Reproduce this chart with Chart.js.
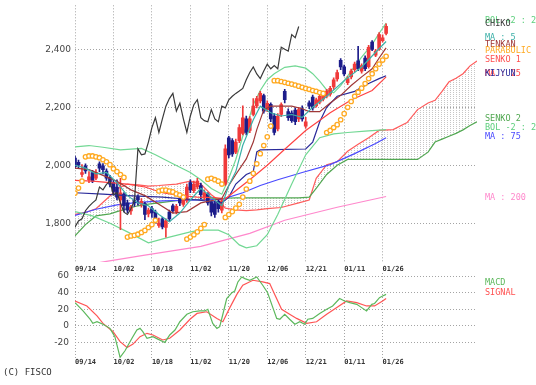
<!DOCTYPE html>
<html>
<head>
<meta charset="utf-8">
<script src="https://cdn.jsdelivr.net/npm/chart.js@4/dist/chart.umd.min.js"></script>
<style>
body{margin:0;background:#fff;width:536px;height:385px;position:relative;overflow:hidden;font-family:"DejaVu Sans Mono",monospace}
canvas{position:absolute;left:0}
#main{top:0}
#macd{top:270px}
.lg{position:absolute;left:485px;font-size:8.5px;line-height:10px;white-space:nowrap}
</style>
</head>
<body>
<canvas id="main" width="536" height="275"></canvas>
<canvas id="macd" width="536" height="105"></canvas>
<div id="legend"></div>
<div class="lg" style="left:3px;top:367px;color:#333;font-size:9px">(C) FISCO</div>
<script>
// date ticks, one every 11 sessions
const xLabels = ["09/14", "10/02", "10/18", "11/02", "11/20", "12/06", "12/21", "01/11", "01/26"];
const priceTicks = [1800, 2000, 2200, 2400];
const macdTicks = [-20, 0, 20, 40, 60];

// daily candles (index 0 = 09/14)
const open = [2025,2010,1968,1998,1950,1975,1955,2005,1998,1980,1958,1940,1925,1880,1900,1870,1842,1880,1892,1865,
  1868,1832,1850,1838,1792,1815,1785,1838,1860,1840,1885,1865,1880,1940,1912,1925,1930,1890,1900,1872,
  1868,1875,1845,1935,2095,2085,2045,2085,2110,2160,2120,2175,2205,2222,2240,2192,2210,2170,2125,2175,
  2255,2185,2180,2190,2160,2195,2135,2215,2235,2205,2218,2228,2238,2245,2270,2298,2362,2340,2285,2305,
  2330,2360,2325,2370,2340,2425,2380,2400,2430,2455];
const high = [2032,2018,2002,2005,1978,1982,1985,2012,2006,1988,1965,1948,1950,1955,1905,1880,1862,1888,1898,1885,
  1872,1852,1858,1845,1818,1820,1815,1845,1866,1865,1892,1888,1935,1950,1945,1955,1938,1915,1905,1878,
  1875,1880,1882,2070,2100,2092,2090,2140,2205,2170,2168,2230,2238,2255,2246,2222,2215,2178,2178,2215,
  2262,2195,2188,2198,2200,2205,2165,2222,2242,2232,2245,2255,2262,2272,2302,2328,2368,2346,2306,2332,
  2356,2410,2350,2378,2414,2430,2400,2458,2450,2488];
const low = [1988,1990,1960,1972,1940,1940,1950,1978,1970,1948,1925,1900,1880,1778,1840,1835,1830,1858,1862,1855,
  1812,1822,1820,1800,1785,1780,1752,1805,1835,1832,1860,1858,1872,1905,1905,1918,1885,1880,1862,1825,
  1820,1838,1835,1930,2025,2030,2040,2078,2105,2105,2112,2170,2198,2215,2180,2185,2150,2105,2118,2168,
  2215,2155,2148,2140,2150,2152,2128,2195,2190,2200,2212,2222,2232,2238,2262,2290,2330,2308,2278,2298,
  2322,2326,2318,2326,2335,2395,2375,2396,2425,2450];
const close = [1995,2000,1975,1980,1960,1945,1975,1990,1985,1955,1935,1910,1890,1905,1860,1845,1855,1870,1880,1875,
  1830,1845,1835,1810,1800,1787,1808,1815,1843,1858,1870,1880,1925,1915,1934,1945,1898,1905,1870,1838,
  1830,1850,1877,2057,2036,2039,2080,2130,2164,2113,2160,2204,2230,2248,2187,2214,2160,2113,2170,2209,
  2226,2164,2154,2150,2192,2160,2150,2204,2198,2226,2238,2248,2256,2265,2295,2320,2339,2315,2299,2325,
  2349,2333,2344,2333,2407,2400,2394,2451,2440,2479];

// parabolic SAR, one dot per session
const sar = [1904,1921,1945,2029,2032,2032,2029,2026,2019,2012,2002,1988,1978,1968,1958,1752,1756,1758,1762,1768,
  1775,1785,1795,1810,1911,1914,1914,1911,1908,1901,1897,1890,1745,1752,1760,1770,1782,1795,1952,1955,
  1950,1945,1935,1820,1830,1840,1852,1865,1890,1918,1945,1972,2005,2040,2068,2098,2135,2292,2292,2289,
  2286,2283,2280,2277,2273,2269,2265,2262,2258,2255,2251,2248,2113,2120,2130,2140,2157,2178,2200,2220,
  2238,2252,2266,2282,2299,2316,2333,2349,2363,2376];

// ichimoku cloud, drawn 26 sessions ahead
const senkoX = [0,3,6,10,12,15,18,21,24,29,33,36,39,41,43,46,49,52,55,59,64,67,69,72,75,78,81,84,87,91,95,98,101,103,105,107,109,111,113,115];
const senko1 = [1830,1837,1850,1894,1918,1935,1932,1928,1930,1935,1945,1935,1898,1880,1852,1846,1843,1846,1850,1854,
  1870,1880,1955,2002,2012,2048,2072,2095,2120,2123,2147,2192,2215,2224,2255,2288,2300,2316,2343,2360];
const senko2 = [1756,1795,1825,1832,1840,1850,1860,1866,1870,1878,1880,1882,1884,1885,1886,1887,1887,1887,1887,1887,
  1887,1890,1920,1968,2000,2020,2020,2020,2020,2020,2020,2020,2045,2080,2090,2100,2110,2122,2137,2150];

// [session, value]
const ma5 = [[0,2000],[3,1990],[6,1970],[9,1975],[12,1940],[15,1895],[18,1870],[21,1860],[24,1830],[27,1805],[30,1835],
  [33,1880],[36,1920],[39,1890],[42,1860],[44,1930],[46,1978],[48,2069],[51,2157],[53,2204],[56,2181],[59,2170],
  [62,2175],[65,2165],[68,2200],[72,2238],[77,2292],[82,2339],[86,2390],[89,2427]];
const ma25 = [[0,1948],[5,1945],[10,1940],[15,1935],[20,1925],[25,1905],[30,1895],[35,1890],[40,1888],[43,1884],
  [50,1950],[55,2000],[60,2055],[66,2120],[73,2181],[79,2225],[85,2258],[89,2305]];
const ma75 = [[0,1827],[6,1848],[12,1863],[18,1872],[25,1877],[35,1880],[42,1882],[48,1905],[53,1930],[58,1950],
  [65,1975],[73,2002],[80,2040],[86,2075],[89,2095]];
const ma200 = [[0,1650],[9,1668],[20,1690],[36,1720],[50,1765],[60,1810],[75,1855],[89,1892]];
const bolUp = [[0,2063],[4,2068],[8,2062],[13,2053],[19,2058],[23,2036],[28,2005],[33,1975],[36,1950],[39,1920],[42,1900],
  [44,1955],[46,2020],[48,2100],[50,2170],[51,2210],[53,2258],[55,2295],[57,2316],[60,2338],[63,2343],[66,2335],
  [68,2316],[70,2290],[72,2260],[74,2250],[76,2275],[79,2325],[82,2373],[85,2417],[87,2455],[89,2491]];
const bolLow = [[0,1840],[5,1825],[10,1800],[15,1770],[21,1732],[27,1752],[33,1770],[36,1776],[41,1776],[44,1760],
  [47,1725],[49,1715],[52,1722],[55,1760],[58,1830],[62,1935],[66,2036],[70,2095],[74,2108],[78,2113],[83,2118],[89,2123]];
const tenkan = [[0,1990],[4,1985],[8,1965],[12,1945],[16,1915],[20,1895],[24,1865],[28,1835],[32,1840],[36,1870],
  [40,1880],[42,1885],[44,1930],[46,1968],[49,2022],[51,2080],[52,2123],[54,2191],[56,2204],[59,2204],[62,2204],
  [65,2195],[67,2185],[70,2185],[73,2215],[76,2241],[79,2275],[82,2305],[85,2333],[87,2370],[89,2405]];
const kijun = [[0,1905],[8,1900],[15,1895],[25,1890],[35,1880],[42,1870],[44,1890],[46,1935],[49,1968],[51,1978],
  [52,2046],[53,2053],[66,2056],[68,2080],[70,2150],[72,2200],[75,2238],[80,2255],[84,2282],[87,2299],[89,2309]];

const macd = [[0,28],[1.4,22],[2.3,18],[4.3,8],[5.1,3],[6.3,5],[8,2],[10,-3],[11.4,-13],[12.9,-38],[14.3,-30],
  [16.3,-15],[17.7,-5],[18.6,-3],[19.4,-7],[20.6,-15],[22.3,-13],[23.7,-16],[25.7,-20],[27.1,-11],[28.6,-5],[30,5],
  [32,14],[33.7,17],[35.7,18],[37.1,18],[38,20],[39.4,3],[40.6,-3],[41.4,-1],[42.3,14],[43.4,33],[44.9,40],[45.7,42],
  [46.6,53],[47.7,59],[48.6,57],[50,55],[52,59],[53.7,49],[55.1,40],[56.6,22],[57.7,9],[58.6,8],[60,14],[61.4,8],
  [62.9,2],[64.3,5],[65.7,2],[66.6,8],[68,9],[70,15],[72,20],[73.7,24],[75.7,33],[77.1,30],[78.6,28],[80.6,26],
  [82,22],[83.4,18],[84.9,26],[85.7,27],[87.1,34],[88,36],[89,38]];
const signal = [[0,30],[3.4,24],[6.3,12],[8,3],[10.9,-7],[12.9,-19],[14.9,-26],[16.6,-22],[18.6,-13],[20.6,-9],
  [22.3,-11],[25.1,-17],[27.1,-15],[30,-5],[32.9,8],[34.9,15],[37.7,17],[40.6,9],[42.3,5],[44.3,22],[46.3,38],[48,49],
  [50.9,55],[53.7,53],[55.7,51],[57.1,38],[59.1,20],[61.4,14],[63.4,9],[66.3,3],[69.1,5],[72,14],[74.9,22],[77.7,30],
  [80.6,28],[83.4,24],[85.7,24],[88,30],[89,33]];

const CHIKO_SHIFT = 25;

const pts = arr => arr.map(p => ({x: p[0], y: p[1]}));
const line = (label, data, color, order) => ({type: "line", label, data, borderColor: color, borderWidth: 1.2, pointRadius: 0, order});

// vertical dotted hatch for the cloud
const hatch = (() => {
  const c = document.createElement("canvas");
  c.width = 3; c.height = 2;
  const g = c.getContext("2d");
  g.fillStyle = "#c6c6c6";
  g.fillRect(0, 0, 1, 1);
  return g.createPattern(c, "repeat");
})();

const candleColor = ctx => close[ctx.dataIndex] >= open[ctx.dataIndex] ? "#f03a3a" : "#1c1c8a";

// keep the plot box fixed: no automatic room for overflowing labels
const noPad = s => { s.paddingTop = 0; s.paddingBottom = 0; s.paddingLeft = 0; s.paddingRight = 0; };

const xAxis = (h, pad) => ({
  type: "linear", min: 0, max: 115, offset: false,
  afterBuildTicks: s => { s.ticks = xLabels.map((_, k) => ({value: k * 11})); },
  afterFit: s => { s.height = h; noPad(s); },
  grid: {color: "#a4a4a4", drawTicks: false, offset: false},
  border: {display: false, dash: [1, 2]},
  ticks: {align: "start", padding: pad, maxRotation: 0, autoSkip: false, color: "#333",
    font: {family: "DejaVu Sans Mono", size: 7, weight: "bold"},
    callback: (v, k) => xLabels[k]}
});

const yAxis = (min, max, ticks, pad, fmt) => ({
  min, max,
  afterBuildTicks: s => { s.ticks = ticks.map(v => ({value: v})); },
  afterFit: s => { s.width = 75; noPad(s); },
  grid: {color: "#a4a4a4", drawTicks: false},
  border: {display: false, dash: [1, 2]},
  ticks: {padding: pad, color: "#444", font: {family: "DejaVu Sans", size: 9}, callback: fmt}
});

const baseOpts = {
  responsive: false, animation: false, devicePixelRatio: 1,
  plugins: {legend: {display: false}, tooltip: {enabled: false}},
  elements: {line: {tension: 0}, point: {radius: 0}}
};

new Chart(document.getElementById("main"), {
  type: "line",
  data: {
    datasets: [
      Object.assign(line("SENKO 1", senkoX.map((x, i) => ({x, y: senko1[i]})), "#ff5c5c", 20), {fill: 1, backgroundColor: hatch}),
      line("SENKO 2", senkoX.map((x, i) => ({x, y: senko2[i]})), "#52a852", 19),
      line("MA 200", pts(ma200), "#ff88cc", 15),
      line("MA 75", pts(ma75), "#4a4aff", 14),
      line("BOL +2", pts(bolUp), "#72d894", 13),
      line("BOL -2", pts(bolLow), "#72d894", 13),
      {type: "bar", label: "wick", data: low.map((l, i) => ({x: i, y: [l, high[i]]})),
        backgroundColor: candleColor, barThickness: 1, grouped: false, order: 12},
      {type: "bar", label: "body", data: open.map((o, i) => ({x: i, y: [o, close[i]]})),
        backgroundColor: candleColor, barThickness: 3, grouped: false, order: 11},
      line("KIJYUN", pts(kijun), "#2a2a9a", 8),
      line("MA 25", pts(ma25), "#ff4444", 7),
      line("TENKAN", pts(tenkan), "#a03838", 6),
      line("MA 5", pts(ma5), "#3cb0a8", 5),
      {type: "line", label: "PARABOLIC", data: sar.map((v, i) => ({x: i, y: v})), showLine: false,
        pointRadius: 2.2, pointBorderWidth: 1.3, pointBorderColor: "#ffaa22", pointBackgroundColor: "#fff", order: 4},
      line("CHIKO", close.slice(CHIKO_SHIFT).map((c, i) => ({x: i, y: c})), "#3a3a3a", 3)
    ]
  },
  options: Object.assign({}, baseOpts, {
    layout: {padding: {left: 0, right: 59, top: 0, bottom: 0}},
    scales: {
      x: xAxis(13, 3),
      y: yAxis(1666, 2552, priceTicks, 4, v => v.toLocaleString("en-US"))
    }
  })
});

new Chart(document.getElementById("macd"), {
  type: "line",
  data: {
    datasets: [
      line("SIGNAL", pts(signal), "#ff5555", 2),
      line("MACD", pts(macd), "#5cb85c", 1)
    ]
  },
  options: Object.assign({}, baseOpts, {
    layout: {padding: {left: 0, right: 59, top: 3, bottom: 0}},
    scales: {
      x: xAxis(17, 0),
      y: yAxis(-38.75, 63.75, macdTicks, 6, v => String(v))
    }
  })
});

// right-hand labels
const legend = [
  ["BOL +2 : 25", "#5ccf7c", 20], ["CHIKO", "#3a3a3a", 23], ["MA : 5", "#3cb0a8", 37],
  ["TENKAN", "#a03838", 44], ["PARABOLIC", "#ffaa22", 50], ["SENKO 1", "#ff5050", 59],
  ["MA : 25", "#ff4444", 73], ["KIJYUN", "#2a2a9a", 73], ["SENKO 2", "#52a852", 118],
  ["BOL -2 : 25", "#5ccf7c", 127], ["MA : 75", "#4a4aff", 136], ["MA : 200", "#ff88cc", 197],
  ["MACD", "#5cb85c", 282], ["SIGNAL", "#ff5050", 292]
];
const box = document.getElementById("legend");
legend.forEach(([t, c, y]) => {
  const d = document.createElement("div");
  d.className = "lg";
  d.textContent = t;
  d.style.color = c;
  d.style.top = (y - 5) + "px";
  box.appendChild(d);
});
</script>
</body>
</html>
